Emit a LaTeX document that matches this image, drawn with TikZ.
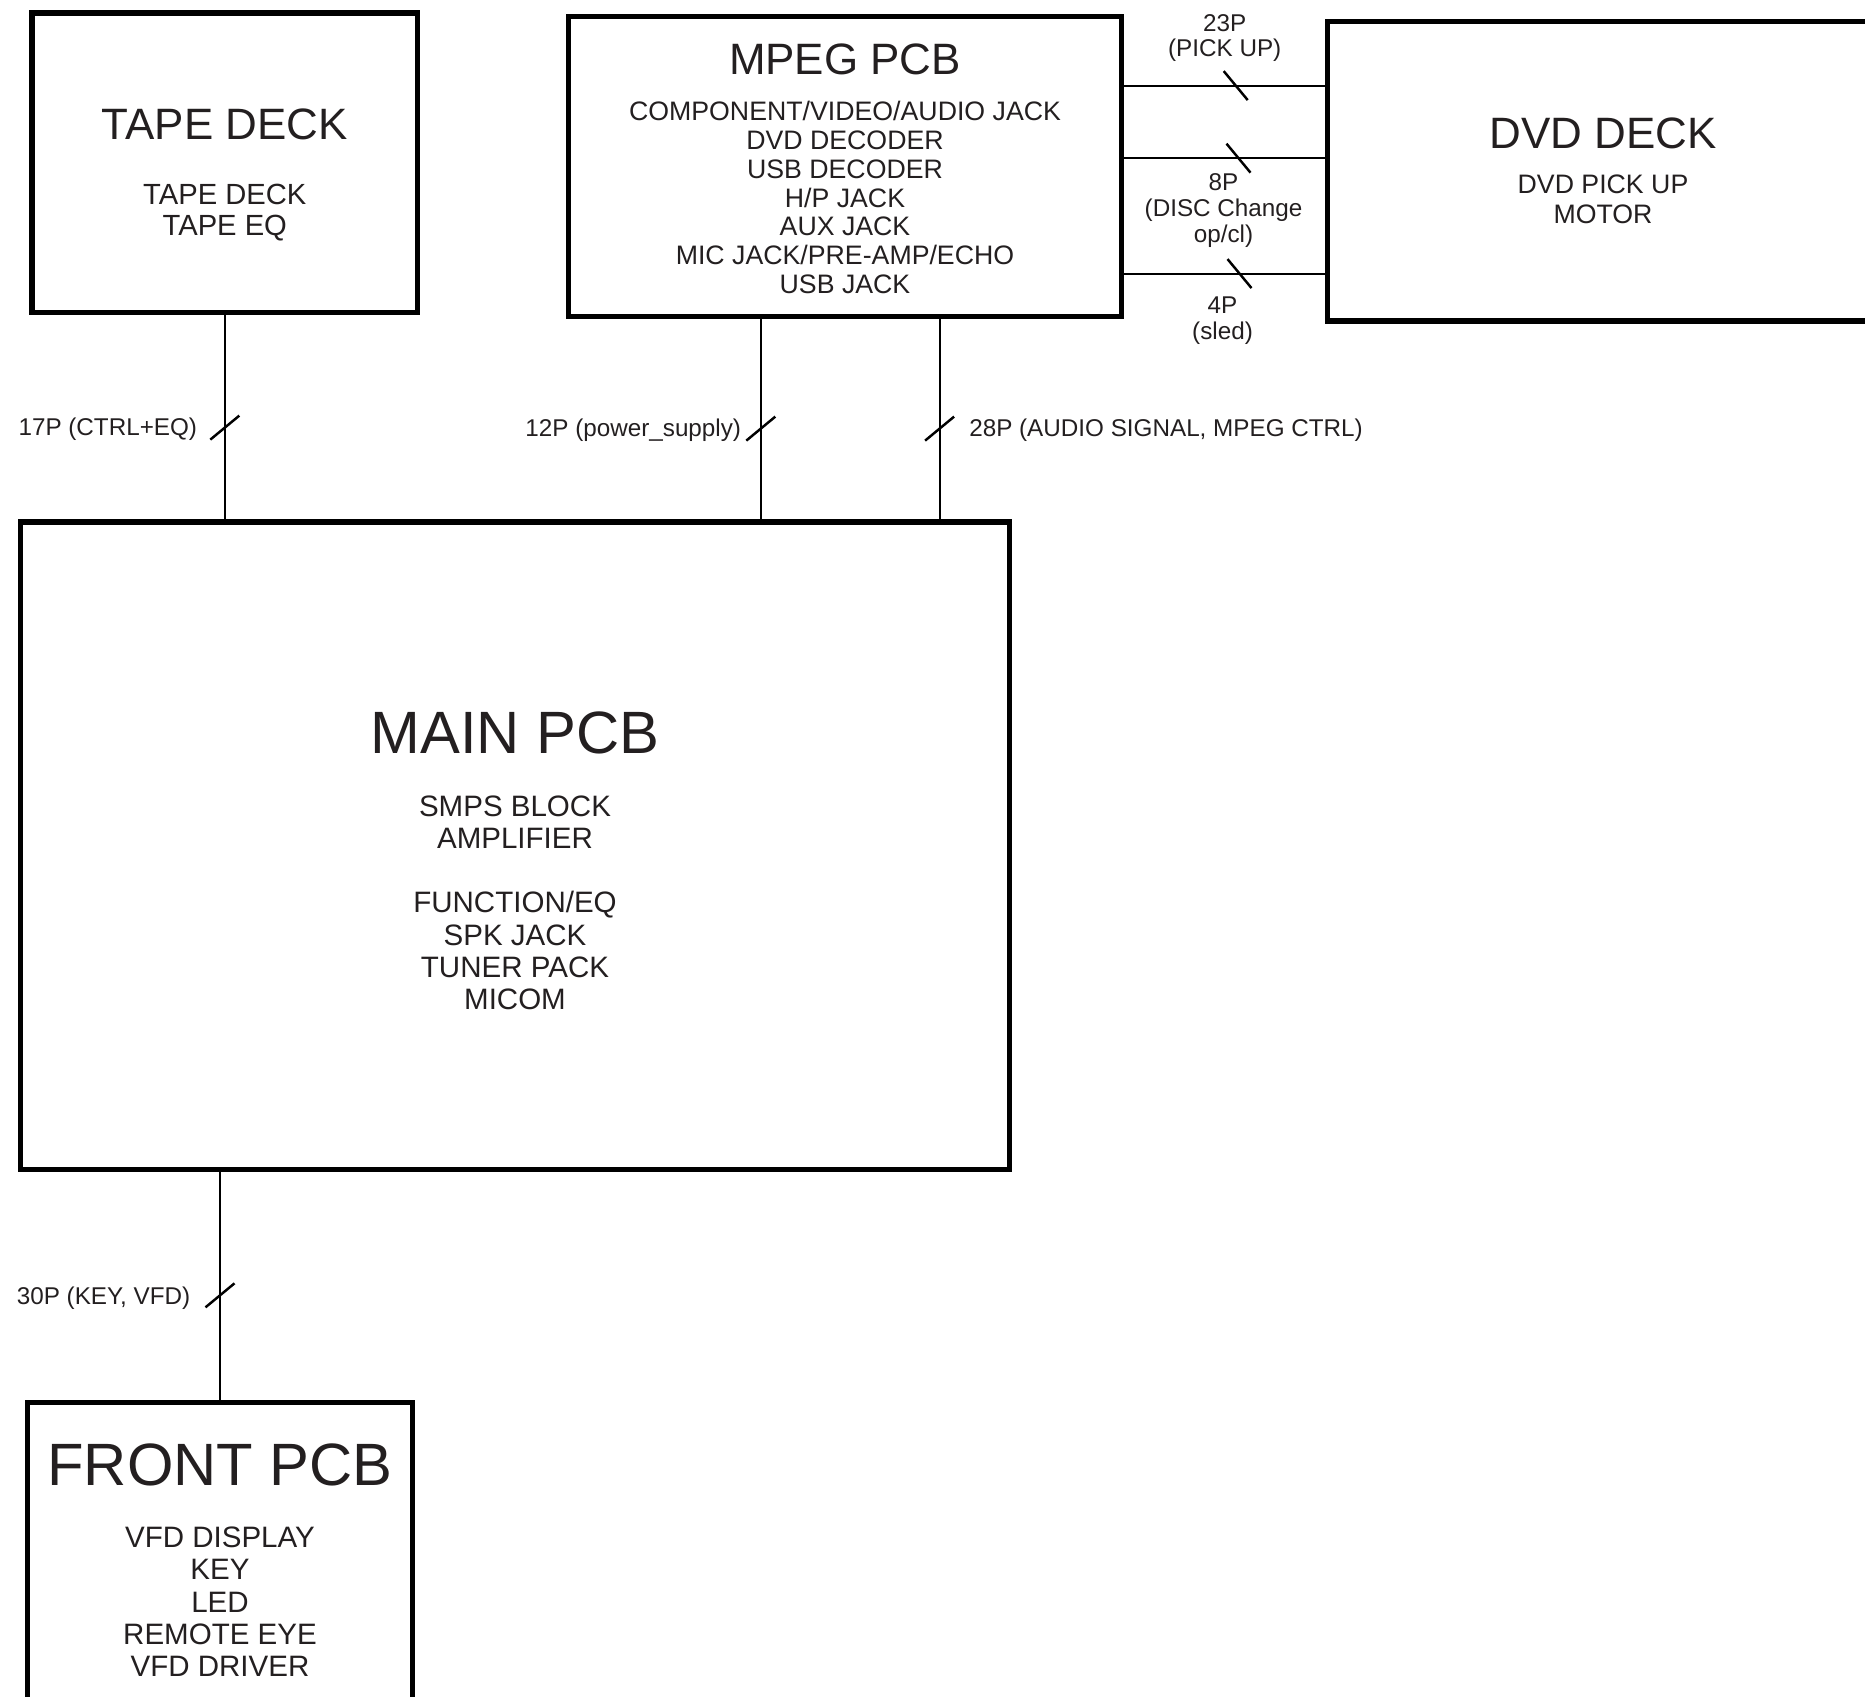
\documentclass[tikz,border=0pt]{standalone}
\usepackage{fontspec}
\setmainfont{Liberation Sans}
\usetikzlibrary{positioning}
\definecolor{inkblack}{RGB}{35,31,32}
\tikzset{
  pcbbox/.style={
    draw=black,
    line width=1.5pt,
    inner sep=0pt
  },
  pcbtitle/.style={inner sep=0pt, text=inkblack, font=\fontsize{12.5}{15}\selectfont},
  pcbtitlebig/.style={pcbtitle, font=\fontsize{17}{20}\selectfont},
  pcbitems/.style={inner sep=0pt, align=center, text=inkblack, font=\fontsize{8.4}{9.15}\selectfont},
  pcbitemssmall/.style={pcbitems, font=\fontsize{7.6}{8.2}\selectfont},
  pcbwire/.style={line width=0.6pt, draw=black},
  busmark/.style={line width=0.7pt, draw=black},
  wirelabel/.style={inner sep=0pt, align=center, text=inkblack, font=\fontsize{6.9}{7.3}\selectfont}
}

\begin{document}
\begin{tikzpicture}[x=0.1mm, y=-0.1mm]
    \path[use as bounding box, clip] (0,0) rectangle (1865,1697);

    % boards
    \node[pcbbox, minimum width=38.54mm, minimum height=29.98mm] (tape) at (224.8,162.9) {};
    \node[pcbbox, minimum width=55.31mm, minimum height=29.97mm] (mpeg) at (845,166.5) {};
    \node[pcbbox, minimum width=55.12mm, minimum height=29.96mm] (dvd) at (1603,171.2) {};
    \node[pcbbox, minimum width=98.96mm, minimum height=64.71mm] (main) at (515,845.65) {};
    \node[pcbbox, minimum width=38.53mm, minimum height=31.77mm] (front) at (220,1561.2) {};

    % board texts
    \node[pcbtitle, below=9.8mm of tape.north] (tapetitle) {TAPE DECK};
    \node[pcbitems, font=\fontsize{8.3}{8.8}\selectfont, below=4.3mm of tapetitle] (tapeitems) {TAPE DECK\\TAPE EQ};

    \node[pcbtitle, below=2.9mm of mpeg.north] (mpegtitle) {MPEG PCB};
    \node[pcbitemssmall, below=2.5mm of mpegtitle] (mpegitems) {COMPONENT/VIDEO/AUDIO JACK\\DVD DECODER\\USB DECODER\\H/P JACK\\AUX JACK\\MIC JACK/PRE-AMP/ECHO\\USB JACK};

    \node[pcbtitle, below=9.8mm of dvd.north] (dvdtitle) {DVD DECK};
    \node[pcbitemssmall, font=\fontsize{7.6}{8.5}\selectfont, below=2.5mm of dvdtitle] (dvditems) {DVD PICK UP\\MOTOR};

    \node[pcbtitlebig, below=19.2mm of main.north] (maintitle) {MAIN PCB};
    \node[pcbitems, below=4.0mm of maintitle] (mainitems) {SMPS BLOCK\\AMPLIFIER\\\mbox{}\\FUNCTION/EQ\\SPK JACK\\TUNER PACK\\MICOM};

    \node[pcbtitlebig, below=4.3mm of front.north] (fronttitle) {FRONT PCB};
    \node[pcbitems, below=4.0mm of fronttitle] (frontitems) {VFD DISPLAY\\KEY\\LED\\REMOTE EYE\\VFD DRIVER};

    % wire tracks
    \coordinate (pwrx) at (760.8,0);
    \coordinate (sigx) at (939.6,0);
    \coordinate (w23) at (0,85.6);
    \coordinate (w8) at (0,158.2);
    \coordinate (w4) at (0,273.6);

    % cables
    \draw[pcbwire] (tape.south) -- coordinate[pos=0.55] (t17) (tape.south |- main.north);
    \draw[pcbwire] (mpeg.south -| pwrx) -- coordinate[pos=0.547] (t12) (main.north -| pwrx);
    \draw[pcbwire] (mpeg.south -| sigx) -- coordinate[pos=0.547] (t28) (main.north -| sigx);
    \draw[pcbwire] (front.north |- main.south) -- coordinate[pos=0.542] (t30) (front.north);

    \draw[pcbwire] (mpeg.east |- w23) -- coordinate[pos=0.556] (t23) (dvd.west |- w23);
    \draw[pcbwire] (mpeg.east |- w8) -- coordinate[pos=0.57] (t8) (dvd.west |- w8);
    \draw[pcbwire] (mpeg.east |- w4) -- coordinate[pos=0.575] (t4) (dvd.west |- w4);

    % bus marks
    \foreach \tick in {t17,t12,t28,t30}
      \draw[busmark] (\tick) +(-14.5,12) -- +(14.5,-12);
    \foreach \tick in {t23,t8,t4}
      \draw[busmark] (\tick) +(-12,-14.5) -- +(12,14.5);

    % cable labels
    \node[wirelabel, left=2.7mm of t17, yshift=-0.2mm] (lbl17) {17P (CTRL+EQ)};
    \node[wirelabel, left=1.9mm of t12, yshift=-0.2mm] (lbl12) {12P (power\_supply)};
    \node[wirelabel, right=2.9mm of t28, yshift=-0.2mm] (lbl28) {28P (AUDIO SIGNAL, MPEG CTRL)};
    \node[wirelabel, left=2.9mm of t30, yshift=-0.3mm] (lbl30) {30P (KEY, VFD)};
    \node[wirelabel, above=2.3mm of t23, xshift=-1.1mm] (lbl23) {23P\\(PICK UP)};
    \node[wirelabel, below=1.5mm of t8, xshift=-1.5mm] (lbl8) {8P\\(DISC Change\\op/cl)};
    \node[wirelabel, below=2.3mm of t4, xshift=-1.7mm] (lbl4) {4P\\(sled)};
\end{tikzpicture}
\end{document}
